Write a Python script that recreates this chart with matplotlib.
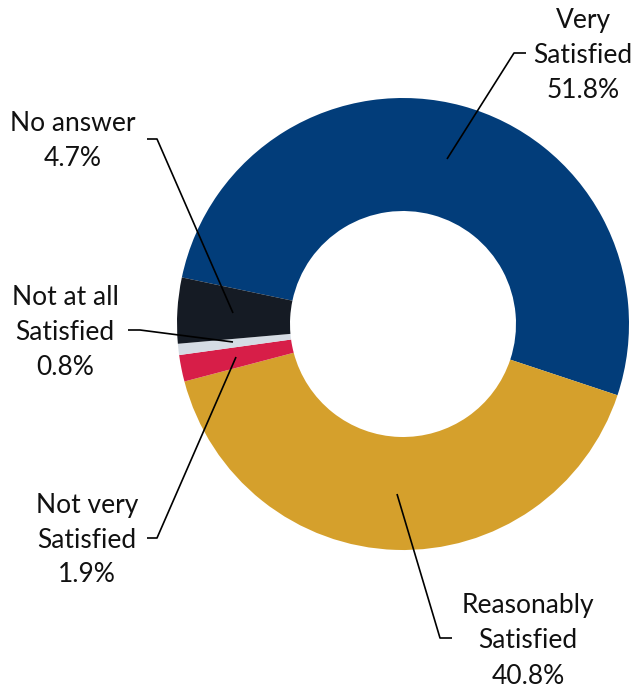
import matplotlib.pyplot as plt

categories = ["Very\nSatisfied", "Reasonably\nSatisfied", "Not very\nSatisfied",
              "Not at all\nSatisfied", "No answer"]
shares = [51.8, 40.8, 1.9, 0.8, 4.7]
colors = ["#023D7A", "#D5A02C", "#D71E48", "#D5DCE4", "#151B24"]

# pie geometry in figure pixels
CX, CY, R = 403, 324, 226
W, H = 638, 690


def px(x, y):
    """pixel position -> pie units (centre 0,0, radius 1)"""
    return (x - CX) / R, (CY - y) / R


fig = plt.figure(figsize=(W / 100, H / 100), dpi=100)
ax = fig.add_axes([0, 0, 1, 1])

ax.pie(shares, colors=colors, startangle=168.1, counterclock=False,
       radius=1, wedgeprops={"width": 0.5, "linewidth": 0})

# pie() resets the limits, so set them afterwards
ax.set_aspect("auto")
ax.set_xlim(-CX / R, (W - CX) / R)
ax.set_ylim(-(H - CY) / R, CY / R)
ax.axis("off")

# label text centre + leader line path (pixels), one per category
label_pos = [(583, 55), (528, 641), (87, 540), (65, 332), (73, 141)]
leaders = [
    [(526, 53), (514, 53), (447, 159)],
    [(452, 638), (440, 638), (397, 494)],
    [(147, 538), (157, 538), (236, 357)],
    [(128, 330), (140, 330), (233, 342)],
    [(147, 139), (157, 139), (233, 313)],
]

for cat, val, (tx, ty), path in zip(categories, shares, label_pos, leaders):
    xs, ys = zip(*[px(x, y) for x, y in path])
    ax.plot(xs, ys, color="black", lw=1.2, solid_capstyle="butt")
    lx, ly = px(tx, ty)
    ax.text(lx, ly, f"{cat}\n{val:.1f}%", ha="center", va="center",
            fontsize=19, family="Lato", linespacing=1.5, color="#111111")

fig.savefig("out.png", dpi=100)
